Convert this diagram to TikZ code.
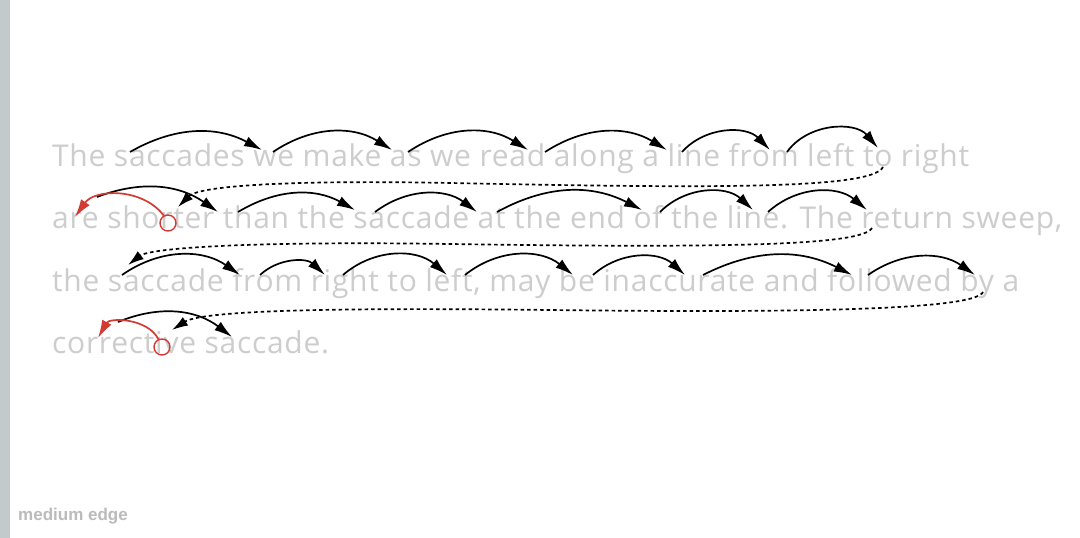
\documentclass[tikz,border=0pt]{standalone}
\usepackage{fontspec}
\setmainfont{Open Sans}
\newfontfamily\readfont[LetterSpace=2.4]{Open Sans}
\newfontfamily\labelfont{Liberation Sans}
\usetikzlibrary{arrows.meta}
\definecolor{TextClr}{HTML}{CDCDCD}
\definecolor{EdgeClr}{HTML}{C3CACC}
\definecolor{LabelClr}{HTML}{BBBBBB}
\definecolor{MissClr}{HTML}{D23B33}

\tikzset{
  textline/.style={anchor=base west,inner sep=0,text=TextClr,font=\readfont\fontsize{30}{34}\selectfont},
  saccade/.style={line width=1.7pt,-{Latex[length=18pt,width=10.5pt]}},
  sweep/.style={line width=1.7pt,dash pattern=on 3.5pt off 3pt,-{Latex[length=16pt,width=10pt]}},
  miss/.style={saccade,color=MissClr},
  fixmark/.style={circle,draw=MissClr,line width=1.4pt,minimum size=16pt,inner sep=0}
}

\begin{document}
\begin{tikzpicture}[x=1pt,y=-1pt]
\fill[white] (0,0) rectangle (1080,538);
\useasboundingbox (0,0) rectangle (1080,538);
\fill[EdgeClr] (0,0) rectangle (10,538);
\node[anchor=base west,inner sep=0,text=LabelClr,font=\labelfont\bfseries\fontsize{17}{20}\selectfont] (edge) at (18,520) {medium edge};

\node[textline] (l1) at (52,166) {The saccades we make as we read along a line from left to right};
\node[textline] (l2) at (52,228) {are shorter than the saccade at the end of the line. The return sweep,};
\node[textline] (l3) at (52,291) {the saccade from right to left, may be inaccurate and followed by a};
\node[textline] (l4) at (52,353) {corrective saccade.};

% fixation points: start and end of each saccade
\foreach \n/\x/\y in {s11/130/152,e11/262/150,s12/273/152,e12/392/150,s13/408/152,e13/528/150,
  s14/545/152,e14/667/150,s15/682/152,e15/770/150,s16/787/152,e16/878/148,
  s21/97/197,e21/218/212,s22/238/212,e22/355/210,s23/375/212,e23/477/212,
  s24/497/212,e24/642/210,s25/660/212,e25/753/210,s26/768/212,e26/867/210,
  s31/122/275,e31/240/275,s32/260/275,e32/325/275,s33/343/275,e33/447/275,
  s34/465/275,e34/573/275,s35/593/275,e35/685/275,s36/703/275,e36/852/275,
  s37/868/275,e37/975/275,s41/118/322,e41/232/337,
  r1s/883/167,r1e/178/207,r2s/872/228,r2e/128/265,r3s/983/292,r3e/172/330,
  q2/75/217,q4/98/338}
  \coordinate (\n) at (\x,\y);

\foreach \a/\b in {11/29,12/33,13/33,14/32,15/47,16/52,21/28,22/30,23/37,24/28,25/44,26/41,
  31/35,32/43,33/41,34/39,35/42,36/27,37/35,41/30}
  \draw[saccade] (s\a) to[bend left=\b] (e\a);

% return sweeps
\draw[sweep] (r1s) .. controls (872,190) and (700,188) .. (450,183) .. controls (300,180) and (200,185) .. (r1e);
\draw[sweep] (r2s) .. controls (862,246) and (720,248) .. (450,244) .. controls (250,241) and (150,248) .. (r2e);
\draw[sweep] (r3s) .. controls (975,310) and (800,313) .. (550,310) .. controls (300,307) and (200,312) .. (r3e);

% undershoot and corrective saccade
\node[fixmark] (m2) at (168,223) {};
\node[fixmark] (m4) at (162,347) {};
\draw[miss] (m2.120) to[bend right=54] (q2);
\draw[miss] (m4.115) to[bend right=62] (q4);
\end{tikzpicture}
\end{document}
